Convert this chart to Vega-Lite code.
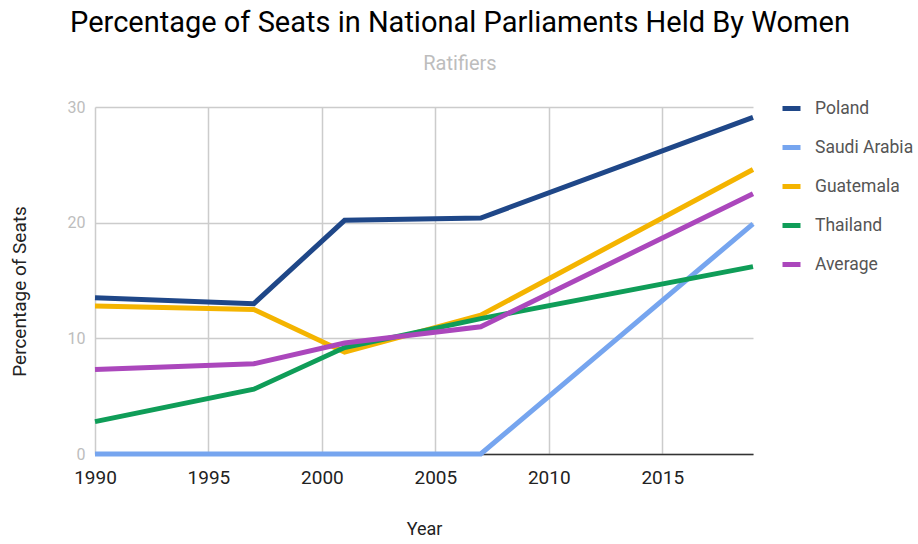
{
  "$schema": "https://vega.github.io/schema/vega-lite/v6.json",
  "autosize": "none",
  "width": 658,
  "height": 347,
  "padding": {"left": 95, "top": 107, "right": 165, "bottom": 90},
  "background": "white",
  "config": {
    "font": "Roboto",
    "view": {"stroke": null}
  },
  "title": {
    "text": "Percentage of Seats in National Parliaments Held By Women",
    "subtitle": "Ratifiers",
    "anchor": "middle",
    "frame": "group",
    "dx": 36,
    "fontSize": 29,
    "fontWeight": "normal",
    "color": "#000000",
    "subtitleFontSize": 20,
    "subtitleColor": "#bdbdbd",
    "subtitlePadding": 16,
    "offset": 23
  },
  "data": {
    "values": [
      {"year": 1990, "country": "Poland", "pct": 13.5},
      {"year": 1997, "country": "Poland", "pct": 13.0},
      {"year": 2001, "country": "Poland", "pct": 20.2},
      {"year": 2007, "country": "Poland", "pct": 20.4},
      {"year": 2019, "country": "Poland", "pct": 29.1},
      {"year": 1990, "country": "Saudi Arabia", "pct": 0},
      {"year": 1997, "country": "Saudi Arabia", "pct": 0},
      {"year": 2001, "country": "Saudi Arabia", "pct": 0},
      {"year": 2007, "country": "Saudi Arabia", "pct": 0},
      {"year": 2019, "country": "Saudi Arabia", "pct": 19.9},
      {"year": 1990, "country": "Guatemala", "pct": 12.8},
      {"year": 1997, "country": "Guatemala", "pct": 12.5},
      {"year": 2001, "country": "Guatemala", "pct": 8.8},
      {"year": 2007, "country": "Guatemala", "pct": 12.0},
      {"year": 2019, "country": "Guatemala", "pct": 24.6},
      {"year": 1990, "country": "Thailand", "pct": 2.8},
      {"year": 1997, "country": "Thailand", "pct": 5.6},
      {"year": 2001, "country": "Thailand", "pct": 9.2},
      {"year": 2007, "country": "Thailand", "pct": 11.7},
      {"year": 2019, "country": "Thailand", "pct": 16.2},
      {"year": 1990, "country": "Average", "pct": 7.3},
      {"year": 1997, "country": "Average", "pct": 7.8},
      {"year": 2001, "country": "Average", "pct": 9.6},
      {"year": 2007, "country": "Average", "pct": 11.0},
      {"year": 2019, "country": "Average", "pct": 22.5}
    ]
  },
  "mark": {"type": "line", "strokeCap": "butt", "strokeJoin": "miter"},
  "encoding": {
    "x": {
      "field": "year",
      "type": "quantitative",
      "scale": {"domain": [1990, 2019], "nice": false, "zero": false},
      "axis": {
        "values": [1990, 1995, 2000, 2005, 2010, 2015],
        "format": "d",
        "title": "Year",
        "titleFontSize": 18,
        "titleFontWeight": "normal",
        "titleColor": "#222222",
        "titlePadding": 33,
        "labelFontSize": 19,
        "labelColor": "#222222",
        "labelPadding": 14,
        "labelFlush": false,
        "ticks": false,
        "grid": true,
        "gridColor": "#cccccc",
        "gridWidth": 1.5,
        "domainColor": "#333333",
        "domainWidth": 1.5
      }
    },
    "y": {
      "field": "pct",
      "type": "quantitative",
      "scale": {"domain": [0, 30], "nice": false},
      "axis": {
        "values": [0, 10, 20, 30],
        "title": "Percentage of Seats",
        "titleFontSize": 19,
        "titleFontWeight": "normal",
        "titleColor": "#222222",
        "titlePadding": 38,
        "titleY": 184,
        "labelFontSize": 16,
        "labelColor": "#bdbdbd",
        "labelPadding": 10,
        "ticks": false,
        "domain": false,
        "grid": true,
        "gridColor": "#cccccc",
        "gridWidth": 1.5
      }
    },
    "color": {
      "field": "country",
      "type": "nominal",
      "scale": {
        "domain": ["Poland", "Saudi Arabia", "Guatemala", "Thailand", "Average"],
        "range": ["#1f4788", "#76a5ef", "#f4b400", "#0f9d58", "#ab47bc"]
      },
      "legend": {
        "title": null,
        "orient": "none",
        "legendX": 685,
        "legendY": -10,
        "symbolType": "stroke",
        "symbolSize": 324,
        "symbolStrokeWidth": 6,
        "labelFontSize": 17.5,
        "labelColor": "#555555",
        "labelOffset": 12,
        "rowPadding": 17
      }
    },
    "strokeWidth": {
      "field": "country",
      "type": "nominal",
      "scale": {
        "domain": ["Poland", "Saudi Arabia", "Guatemala", "Thailand", "Average"],
        "range": [5, 5, 3, 3, 3]
      },
      "legend": null
    }
  }
}
